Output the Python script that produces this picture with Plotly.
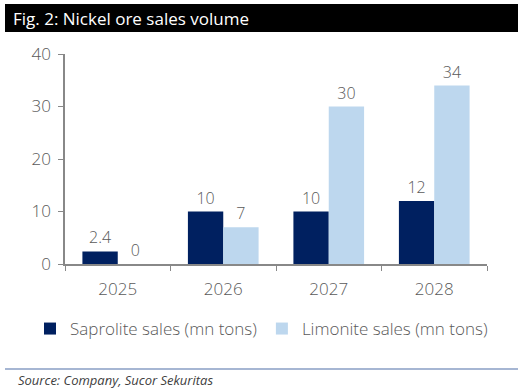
import plotly.graph_objects as go

years = ["2025", "2026", "2027", "2028"]
saprolite = [2.4, 10, 10, 12]
limonite = [0, 7, 30, 34]
saprolite_labels = ["2.4", "10", "10", "12"]
limonite_labels = ["0", "7", "30", "34"]
y_ticks = [0, 10, 20, 30, 40]

FONT = "Open Sans"
GRAY = "#595959"

W, H = 523, 388
L, R, T, B = 65, 487, 54, 264

def px(x):
    return (x - L) / (R - L)

def py(y):
    return (B - y) / (B - T)

lbl_font = dict(family=FONT, size=16, color=GRAY, weight=300)

fig = go.Figure()
fig.add_trace(go.Bar(
    x=years, y=saprolite, name="Saprolite sales (mn tons)",
    marker=dict(color="#002060", line=dict(width=0)),
    text=saprolite_labels, textposition="outside", cliponaxis=False,
    textfont=lbl_font,
))
fig.add_trace(go.Bar(
    x=years, y=limonite, name="Limonite sales (mn tons)",
    marker=dict(color="#BDD7EE", line=dict(width=0)),
    text=limonite_labels, textposition="outside", cliponaxis=False,
    textfont=lbl_font,
))

fig.update_layout(
    width=W, height=H,
    margin=dict(l=L, r=W - R, t=T, b=H - B, pad=0, autoexpand=False),
    paper_bgcolor="white", plot_bgcolor="white",
    barmode="group", bargap=0.33, bargroupgap=0,
    font=dict(family=FONT, color=GRAY, size=15),
    showlegend=True,
    legend=dict(orientation="h", x=px(30), xanchor="left", y=py(329), yanchor="middle",
                font=dict(family=FONT, size=17, color=GRAY, weight=300), itemwidth=30,
                traceorder="normal", bgcolor="rgba(0,0,0,0)"),
    xaxis=dict(showline=True, linecolor="#888888", linewidth=1.5,
               ticks="outside", ticklen=5, tickcolor="#888888", tickson="boundaries",
               tickfont=dict(family=FONT, size=17, color=GRAY, weight=300), showgrid=False,
               ticklabelstandoff=9),
    yaxis=dict(range=[0, 40], tickvals=y_ticks, showline=True, linecolor="#888888", linewidth=1.5,
               ticks="outside", ticklen=5, tickcolor="#888888", showgrid=False, zeroline=False,
               tickfont=dict(family=FONT, size=17, color=GRAY, weight=300), ticklabelstandoff=4),
    shapes=[
        dict(type="rect", xref="paper", yref="paper", x0=px(5), x1=px(518), y0=py(32), y1=py(4),
             fillcolor="black", line=dict(width=0), layer="below"),
        dict(type="line", xref="paper", yref="paper", x0=px(5), x1=px(518), y0=py(369), y1=py(369),
             line=dict(color="#4F6FA8", width=1.2)),
    ],
    annotations=[
        dict(text="Fig. 2: Nickel ore sales volume", xref="paper", yref="paper",
             x=px(11), y=py(19), xanchor="left", yanchor="middle", showarrow=False,
             font=dict(family=FONT, size=17, color="white")),
        dict(text="<i>Source: Company, Sucor Sekuritas</i>", xref="paper", yref="paper",
             x=px(16), y=py(380), xanchor="left", yanchor="middle", showarrow=False,
             font=dict(family=FONT, size=13, color="#404040")),
    ],
)

fig.write_html("out.html", config={"displayModeBar": False},
               post_script="document.body.style.margin='0';")
